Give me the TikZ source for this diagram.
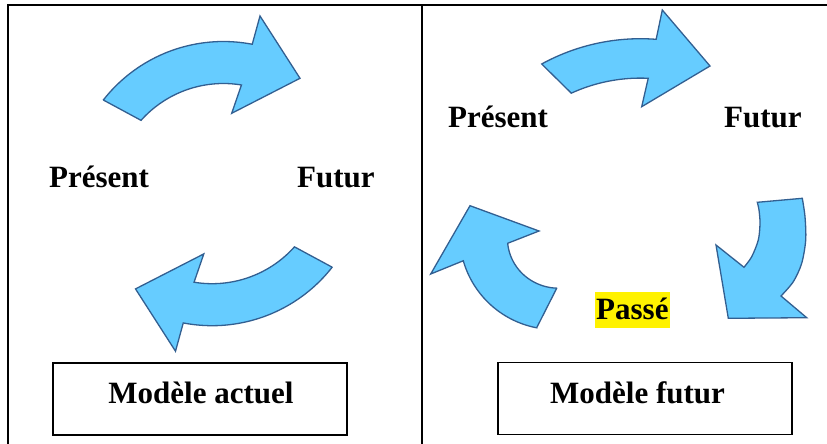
\documentclass[tikz,border=0pt]{standalone}
\usepackage{fontspec}
\setmainfont{Liberation Serif}
\definecolor{arrfill}{RGB}{102,204,255}
\definecolor{arrline}{RGB}{50,95,145}
\tikzset{
  lbl/.style={font=\fontsize{31}{36}\selectfont\bfseries, inner sep=0pt},
  arr/.style={fill=arrfill, draw=arrline, line width=1.3pt, line join=miter},
  frameline/.style={line width=2pt, draw=black},
  modelbox/.style={draw=black, line width=1.8pt, minimum width=294pt, minimum height=72pt, inner sep=0pt},
  hl/.style={lbl, fill=yellow, text height=27pt, text depth=8pt, inner xsep=1pt, inner ysep=0.5pt}
}
\begin{document}
\begin{tikzpicture}[x=1pt,y=-1pt]
\useasboundingbox (0,0) rectangle (827,444);
% table frame
\coordinate (tl) at (8.3,5.5);
\coordinate (tr) at (827,5.5);
\coordinate (bl) at (8.3,444);
\coordinate (mt) at (421.5,5.5);
\coordinate (mb) at (421.5,444);
\draw[frameline] (tr) -- (tl) -- (bl);
\draw[frameline] (mt) -- (mb);

% left panel arrows
\draw[arr] (103.3,100) -- plot[domain=138.2:80.6,samples=40,variable=\t] ({223.4+110.5*cos(\t)},{194-110.5*sin(\t)})
  -- (231.7,113.3) -- (300,78.3) -- (260,16)
  -- plot[domain=79.1:142,samples=40,variable=\t] ({223.4+152.5*cos(\t)},{194-152.5*sin(\t)}) -- cycle;
\draw[arr] (332.2,267.2) -- plot[domain=318.2:260.6,samples=40,variable=\t] ({212.1+110.5*cos(\t)},{173.2-110.5*sin(\t)})
  -- (203.8,253.9) -- (135.5,288.9) -- (175.5,351.2)
  -- plot[domain=259.1:322,samples=40,variable=\t] ({212.1+152.5*cos(\t)},{173.2-152.5*sin(\t)}) -- cycle;

% right panel arrows
\draw[arr] (541.7,64) -- plot[domain=114.6:87.3,samples=40,variable=\t] ({640.4+166*cos(\t)},{244.1-166*sin(\t)})
  -- (641.7,106.7) -- (710,66) -- (662.3,10)
  -- plot[domain=85.6:118.7,samples=40,variable=\t] ({640.4+205.4*cos(\t)},{244.1-205.4*sin(\t)}) -- cycle;
\draw[arr] (757.3,202.3) -- (802.3,198.3)
  -- plot[smooth] coordinates {(802.3,198.3) (805,216.7) (805.7,240) (801.7,263.3) (793.3,281.7) (781,296)}
  -- (806.7,317.7) -- (728.3,318.3) -- (716,245) -- (744,267.3)
  -- plot[smooth] coordinates {(744,267.3) (751.7,256.7) (758.3,240) (760,223.3) (759,210) (757.3,202.3)} -- cycle;
\draw[arr] (556.7,288.3) -- (536.7,327.7)
  -- plot[domain=259.2:196,samples=40,variable=\t] ({554.5+94.9*cos(\t)},{234.6-94.9*sin(\t)})
  -- (430.7,274) -- (470,205.7) -- (539,231)
  -- plot[domain=190.5:272.3,samples=40,variable=\t] ({554.5+(47.6+(\t-190.5)*0.0733)*cos(\t)},{234.6-(47.6+(\t-190.5)*0.0733)*sin(\t)}) -- cycle;

% labels
\node[lbl, anchor=base west] (p1) at (49,187) {Présent};
\node[lbl, anchor=base west] (f1) at (297,187) {Futur};
\node[lbl, anchor=base west] (p2) at (448,127) {Présent};
\node[lbl, anchor=base west] (f2) at (724,127) {Futur};
\node[hl, anchor=base west] (pa) at (595,319) {Passé};

% model boxes
\node[modelbox] (m1) at (200,399) {};
\node[lbl, anchor=base] (t1) at (201,403) {Modèle actuel};
\node[modelbox] (m2) at (645,398.5) {};
\node[lbl, anchor=base] (t2) at (637.5,403) {Modèle futur};
\end{tikzpicture}
\end{document}
